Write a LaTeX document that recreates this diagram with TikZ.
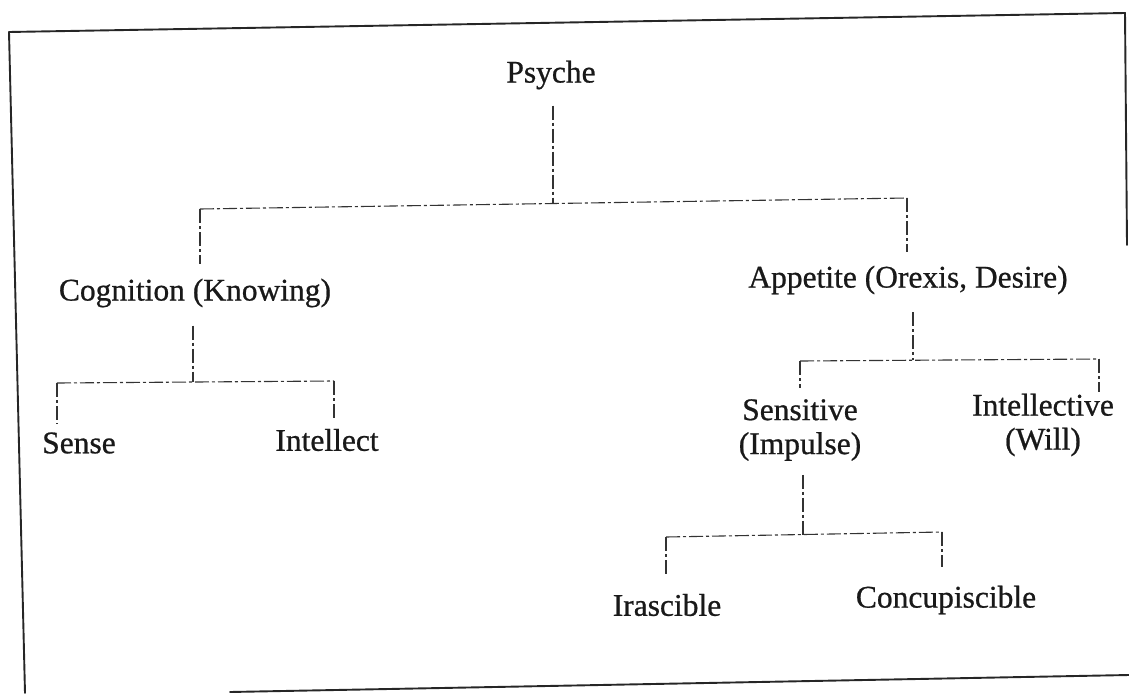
\documentclass[tikz,border=0pt]{standalone}
\usepackage{fontspec}
\setmainfont{Liberation Serif}
\newfontfamily\labfont{Liberation Serif}[FakeBold=0.7]
\newcommand\lab{\labfont\fontsize{31.5}{34}\selectfont}
\begin{document}
\begin{tikzpicture}[x=1pt,y=-1pt,
  lbl/.style={font=\lab, inner sep=0pt, align=center, text=black!90},
  conn/.style={line width=1.1pt, draw=black!80, dash pattern=on 14pt off 3pt on 3pt off 3pt},
  frameline/.style={line width=1.9pt, draw=black!85, line cap=round, line join=round}]
\useasboundingbox (0,0) rectangle (1129,693);
\fill[white] (0,0) rectangle (1129,693);
% frame
\draw[frameline] (25,693) -- (9,32) -- (1125,13) -- (1127,245);
\draw[frameline] (230,692) -- (1129,675);
% nodes
\node[lbl] (psyche) at (551,75) {Psyche};
\node[lbl] (cog) at (195,293) {Cognition (Knowing)};
\node[lbl] (app) at (908,280) {Appetite (Orexis, Desire)};
\node[lbl] (sense) at (79,443) {Sense};
\node[lbl] (intel) at (327,440) {Intellect};
\node[lbl] (sens) at (800,430) {Sensitive\\(Impulse)};
\node[lbl] (intv) at (1043,425) {Intellective\\(Will)};
\node[lbl] (iras) at (667,605) {Irascible};
\node[lbl] (conc) at (946,600) {Concupiscible};
% junction coordinates
\coordinate (j1) at (553,203.5);
\coordinate (c1L) at (200,209);
\coordinate (c1R) at (907,198);
\coordinate (j2) at (193,381.5);
\coordinate (c2L) at (57,383);
\coordinate (c2R) at (334,381);
\coordinate (j3) at (913,360);
\coordinate (c3L) at (800,361);
\coordinate (c3R) at (1099,359);
\coordinate (j4) at (803,534.5);
\coordinate (c4L) at (666,537);
\coordinate (c4R) at (942,532);
% connectors
\draw[conn, shorten <=16pt] (psyche.south -| j1) -- (j1);
\draw[conn] (c1L) -- (c1R);
\draw[conn, shorten >=14pt] (c1L) -- (c1L |- cog.north);
\draw[conn, shorten >=14pt] (c1R) -- (c1R |- app.north);
\draw[conn, shorten <=18pt] (cog.south -| j2) -- (j2);
\draw[conn] (c2L) -- (c2R);
\draw[conn, shorten >=9pt] (c2L) -- (c2L |- sense.north);
\draw[conn, shorten >=11pt] (c2R) -- (c2R |- intel.north);
\draw[conn, shorten <=18pt] (app.south -| j3) -- (j3);
\draw[conn] (c3L) -- (c3R);
\draw[conn, shorten >=11pt] (c3L) -- (c3L |- sens.north);
\draw[conn, shorten >=2pt] (c3R) -- (c3R |- intv.north);
\draw[conn, shorten <=14pt] (sens.south -| j4) -- (j4);
\draw[conn] (c4L) -- (c4R);
\draw[conn, shorten >=19pt] (c4L) -- (c4L |- iras.north);
\draw[conn, shorten >=19pt] (c4R) -- (c4R |- conc.north);
\end{tikzpicture}
\end{document}
